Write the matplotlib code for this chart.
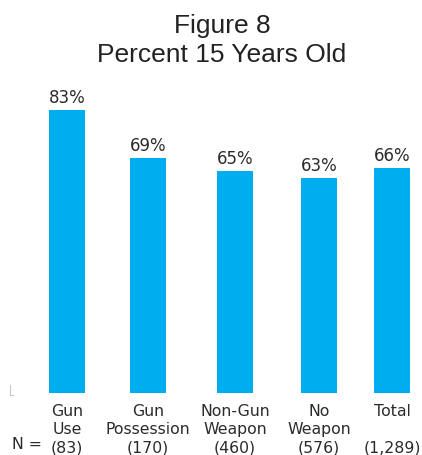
import matplotlib
matplotlib.use("Agg")
import matplotlib.pyplot as plt
from matplotlib.lines import Line2D

# Data
categories = ["Gun\nUse", "Gun\nPossession", "Non-Gun\nWeapon", "No\nWeapon", "Total"]
sample_sizes = ["(83)", "(170)", "(460)", "(576)", "(1,289)"]
percent_15 = [83, 69, 65, 63, 66]

# Layout (bar centres in figure pixels, bar width in pixels)
bar_x = [67, 148, 235, 319, 392]
bar_w = 36

W, H = 422, 456
plt.rcParams["font.family"] = ["Liberation Sans", "DejaVu Sans"]
label_font = ["DejaVu Sans"]
fig = plt.figure(figsize=(W / 100, H / 100), dpi=100)

bottom_px = 394
px_per_pct = 3.41
ax = fig.add_axes([0, (H - bottom_px) / H, 1, 100 * px_per_pct / H])
ax.set_xlim(0, W)
ax.set_ylim(0, 100)

bar_color = "#00AEEF"
text_color = "#2b2b2b"
ax.bar(bar_x, percent_15, width=bar_w, color=bar_color, edgecolor="none")

for x, v in zip(bar_x, percent_15):
    ax.annotate(f"{v}%", (x, v), xytext=(0, 3), textcoords="offset points",
                ha="center", va="bottom", fontsize=12, color=text_color,
                family=label_font)

labels = []
for c, n in zip(categories, sample_sizes):
    lines = c.split("\n")
    while len(lines) < 2:
        lines.append("")
    labels.append("\n".join(lines + [n]))
ax.set_xticks(bar_x)
ax.set_xticklabels(labels, fontsize=11.3, color=text_color, linespacing=1.27,
                   family=label_font)
ax.tick_params(axis="x", length=0, pad=7)
ax.set_yticks([])
for s in ax.spines.values():
    s.set_visible(False)

fig.text(12 / W, 1 - 449 / H, "N =", fontsize=11.3, color=text_color,
         ha="left", va="baseline", family=label_font)

# Titles
fig.text(222 / W, 1 - 33 / H, "Figure 8", fontsize=19, color="#222222",
         ha="center", va="baseline")
fig.text(222 / W, 1 - 62 / H, "Percent 15 Years Old", fontsize=19,
         color="#222222", ha="center", va="baseline")

# Small axis corner mark at the lower left
fig.add_artist(Line2D([10 / W, 10 / W, 13 / W],
                      [1 - 386 / H, 1 - 396 / H, 1 - 396 / H],
                      color="#c8c8c8", lw=0.8))

fig.savefig("out.png", dpi=100)
